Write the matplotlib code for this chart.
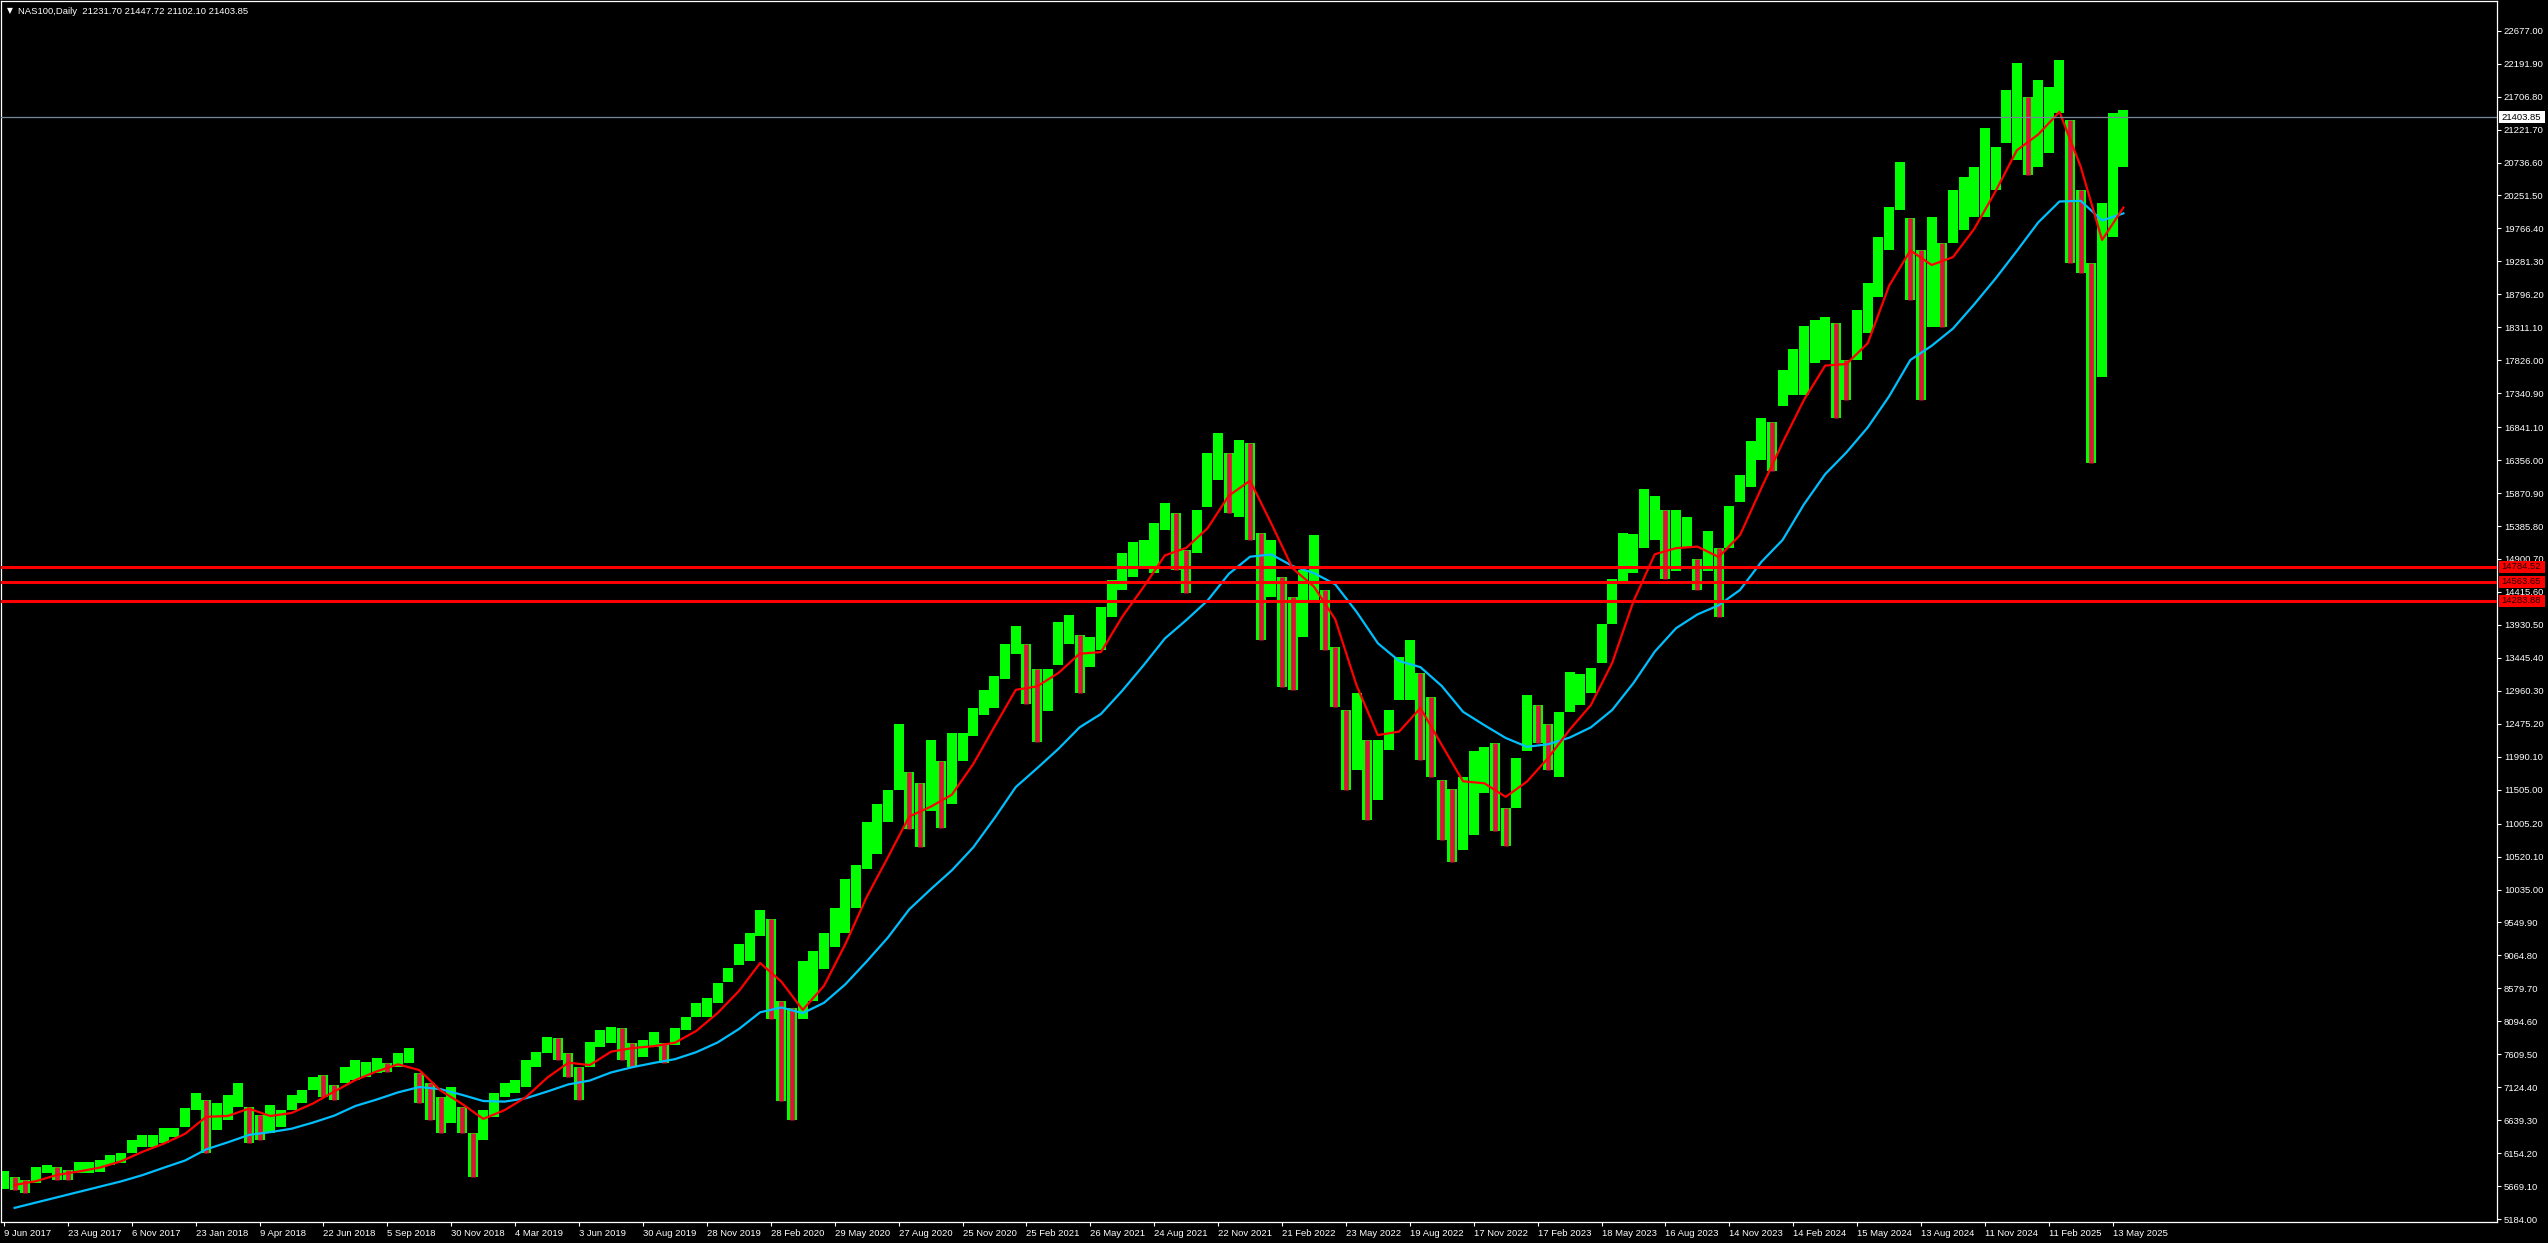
import matplotlib
matplotlib.use("Agg")
import matplotlib.pyplot as plt
import matplotlib.transforms as mtransforms
from matplotlib.patches import Rectangle

plt.rcParams['font.family'] = ['Liberation Sans', 'DejaVu Sans']

# price ranges, one entry per 10 daily bars
bars_per_sample = 10
highs = [5896, 5808, 5759, 5955, 5980, 5955, 5907, 6029, 6029, 6054,
         6127, 6152, 6348, 6422, 6422, 6520, 6520, 6815, 7036, 6937,
         6888, 7011, 7183, 6838, 6716, 6863, 6790, 7011, 7084, 7280,
         7305, 7158, 7427, 7526, 7501, 7551, 7477, 7624, 7698, 7330,
         7183, 6986, 7133, 6838, 6447, 6790, 7036, 7183, 7231, 7526,
         7648, 7869, 7845, 7624, 7427, 7795, 7967, 8016, 7992, 7772,
         7820, 7942, 7772, 7992, 8163, 8360, 8434, 8655, 8880, 9239,
         9397, 9740, 9607, 8399, 8293, 8977, 9135, 9397, 9765, 10186,
         10396, 11028, 11290, 11500, 12473, 11765, 11605, 12236, 11921, 12341,
         12341, 12709, 12972, 13183, 13655, 13919, 13655, 13287, 13287, 13972,
         14076, 13782, 13757, 14198, 14591, 14984, 15155, 15180, 15426, 15720,
         15573, 15033, 15622, 16456, 16760, 16456, 16652, 16604, 15279, 15180,
         14640, 14346, 14739, 15254, 14444, 13610, 12678, 12924, 12236, 12236,
         12678, 13462, 13708, 13218, 12874, 11647, 11515, 11684, 12079, 12135,
         12191, 11234, 11965, 12896, 12754, 12473, 12641, 13233, 13205, 13290,
         13938, 14613, 15289, 15261, 15937, 15825, 15628, 15628, 15514, 14895,
         15317, 15064, 15684, 16134, 16642, 16979, 16923, 17684, 17993, 18330,
         18419, 18467, 18370, 17830, 18566, 18959, 19645, 20086, 20749, 19916,
         19449, 19939, 19548, 20332, 20528, 20675, 21240, 20970, 21804, 22197,
         21706, 21951, 21853, 22246, 21363, 20332, 19253, 20136, 21461, 21510]
lows = [5622, 5612, 5564, 5711, 5858, 5759, 5759, 5858, 5858, 5882,
        5980, 6005, 6152, 6250, 6250, 6300, 6397, 6544, 6790, 6152,
        6495, 6643, 6838, 6300, 6348, 6447, 6544, 6790, 6888, 7084,
        6986, 6937, 7183, 7231, 7280, 7330, 7354, 7427, 7477, 6888,
        6643, 6447, 6594, 6447, 5808, 6348, 6691, 6986, 7036, 7133,
        7427, 7624, 7526, 7280, 6937, 7427, 7722, 7772, 7526, 7427,
        7574, 7722, 7477, 7747, 7967, 8163, 8163, 8360, 8674, 8924,
        8977, 9345, 8135, 6927, 6637, 8135, 8399, 8871, 9188, 9397,
        9765, 10343, 10554, 11028, 11500, 10922, 10660, 11185, 10948, 11290,
        11921, 12289, 12604, 12709, 13130, 13498, 12762, 12210, 12657, 13340,
        13655, 12928, 13315, 13561, 14051, 14444, 14640, 14787, 14690, 15327,
        14739, 14396, 14984, 15670, 16063, 15573, 15523, 15180, 13708, 14346,
        13021, 12972, 13757, 14248, 13561, 12726, 11500, 11795, 11059, 11353,
        12089, 12825, 12825, 11942, 11696, 10764, 10445, 10614, 10839, 11459,
        10895, 10670, 11234, 12079, 12191, 11796, 11684, 12641, 12754, 12924,
        13374, 13938, 14557, 14697, 15064, 15177, 14613, 14725, 15064, 14444,
        14725, 14050, 15064, 15740, 15965, 16359, 16190, 17148, 17317, 17315,
        17781, 17830, 16972, 17241, 17830, 18223, 18762, 19449, 20038, 18713,
        17241, 18320, 18320, 19548, 19743, 19939, 19939, 20332, 21020, 20774,
        20553, 20675, 20872, 21461, 19253, 19106, 16309, 17584, 19645, 20675]

# moving averages, one value per 20 bars (starting at bar 10)
ma_step = 20
ma_red = [5686, 5742, 5834, 5884, 5942, 6035, 6174, 6294, 6439, 6690,
          6701, 6810, 6701, 6746, 6884, 7061, 7231, 7358, 7462, 7377,
          7075, 6881, 6659, 6787, 6978, 7264, 7486, 7451, 7648, 7701,
          7729, 7780, 7953, 8216, 8540, 8954, 8677, 8263, 8619, 9230,
          9924, 10511, 11110, 11253, 11431, 11880, 12432, 12974, 13025, 13222,
          13506, 13530, 14051, 14488, 14953, 15064, 15351, 15832, 16053, 15420,
          14762, 14493, 14011, 13040, 12308, 12360, 12707, 12163, 11628, 11599,
          11399, 11624, 11974, 12386, 12750, 13370, 14279, 14970, 15060, 15083,
          14930, 15251, 15941, 16612, 17241, 17747, 17771, 18077, 18922, 19442,
          19228, 19344, 19760, 20314, 20917, 21149, 21483, 20671, 19596, 20073]
ma_blue = [5349, 5427, 5505, 5583, 5661, 5739, 5831, 5940, 6046, 6211,
           6313, 6423, 6464, 6514, 6604, 6706, 6849, 6944, 7049, 7128,
           7096, 7013, 6922, 6913, 6962, 7061, 7167, 7223, 7342, 7420,
           7482, 7538, 7641, 7783, 7981, 8228, 8299, 8215, 8368, 8640,
           8976, 9329, 9743, 10037, 10318, 10654, 11085, 11543, 11820, 12105,
           12423, 12619, 12962, 13336, 13730, 14000, 14287, 14680, 14934, 14967,
           14796, 14693, 14527, 14122, 13660, 13399, 13308, 13031, 12651, 12454,
           12266, 12136, 12174, 12271, 12422, 12678, 13075, 13537, 13882, 14084,
           14219, 14444, 14856, 15180, 15703, 16149, 16470, 16838, 17294, 17830,
           18039, 18292, 18650, 19029, 19436, 19854, 20163, 20172, 19883, 19988]

levels = [14784.52, 14563.65, 14283.88]
last_price = 21403.85
title = "NAS100,Daily  21231.70 21447.72 21102.10 21403.85"

bars_per_label = 60
x_labels = ['9 Jun 2017', '23 Aug 2017', '6 Nov 2017', '23 Jan 2018', '9 Apr 2018',
            '22 Jun 2018', '5 Sep 2018', '30 Nov 2018', '4 Mar 2019', '3 Jun 2019',
            '30 Aug 2019', '28 Nov 2019', '28 Feb 2020', '29 May 2020', '27 Aug 2020',
            '25 Nov 2020', '25 Feb 2021', '26 May 2021', '24 Aug 2021', '22 Nov 2021',
            '21 Feb 2022', '23 May 2022', '19 Aug 2022', '17 Nov 2022', '17 Feb 2023',
            '18 May 2023', '16 Aug 2023', '14 Nov 2023', '14 Feb 2024', '15 May 2024',
            '13 Aug 2024', '11 Nov 2024', '11 Feb 2025', '13 May 2025']
y_ticks = [22677.00, 22191.90, 21706.80, 21221.70, 20736.60, 20251.50, 19766.40,
           19281.30, 18796.20, 18311.10, 17826.00, 17340.90, 16841.10, 16356.00,
           15870.90, 15385.80, 14900.70, 14415.60, 13930.50, 13445.40, 12960.30,
           12475.20, 11990.10, 11505.00, 11005.20, 10520.10, 10035.00, 9549.90,
           9064.80, 8579.70, 8094.60, 7609.50, 7124.40, 6639.30, 6154.20, 5669.10,
           5184.00]

W, H = 2548, 1243
FS = 6.8
fig = plt.figure(figsize=(W / 100, H / 100), dpi=100, facecolor='black')
ax = fig.add_axes([1 / W, 21 / H, 2496 / W, 1221 / H])
ax.set_facecolor('black')
ax.set_xlim(-2.8, 2340.8)
ax.set_ylim(5141, 23114)

# bars: green band for every block, thinner red core where the block falls
xs = [i * bars_per_sample for i in range(len(highs))]
mids = [(h + l) / 2 for h, l in zip(highs, lows)]
ax.vlines(xs, lows, highs, colors='#00ff00', linewidth=7.2, zorder=2)
down = [i for i in range(1, len(mids)) if mids[i] < mids[i - 1]]
ax.vlines([xs[i] for i in down], [lows[i] for i in down], [highs[i] for i in down],
          colors='#dc143c', linewidth=3.4, zorder=2.5)

# moving averages
ma_x = [10 + j * ma_step for j in range(len(ma_red))]
ax.plot(ma_x, ma_blue, color='#00bfff', linewidth=1.6, zorder=3)
ax.plot(ma_x, ma_red, color='#ff0000', linewidth=1.6, zorder=3)

# horizontal levels
ax.axhline(last_price, color='#778899', linewidth=0.9, zorder=4)
for lv in levels:
    ax.axhline(lv, color='#ff0000', linewidth=2.2, zorder=5)

# axes styling
for sp in ax.spines.values():
    sp.set_color('white')
    sp.set_linewidth(0.9)
ax.yaxis.tick_right()
ax.set_yticks(y_ticks)
ax.set_yticklabels(['%.2f' % v for v in y_ticks])
ax.tick_params(axis='y', colors='white', length=3, width=0.8, pad=2, labelsize=FS)
ax.set_xticks([i * bars_per_label for i in range(len(x_labels))])
ax.set_xticklabels(x_labels, ha='left')
ax.tick_params(axis='x', colors='white', length=3, width=0.8, pad=2, labelsize=FS)

# price boxes on the right scale
trans = mtransforms.blended_transform_factory(ax.transAxes, ax.transData)
px_per_unit = 1221 / (23114 - 5141)
box_h = 12 / px_per_unit
box_w = 46 / 2496


def price_box(value, face, text_color):
    ax.add_patch(Rectangle((1.0008, value - box_h / 2), box_w, box_h, transform=trans,
                           facecolor=face, edgecolor='none', clip_on=False, zorder=6))
    ax.text(1.0018, value, '%.2f' % value, transform=trans, color=text_color,
            fontsize=FS, va='center', ha='left', zorder=7, clip_on=False)


price_box(last_price, 'white', 'black')
for lv in levels:
    price_box(lv, '#ff0000', '#200000')

# header
fig.text(7 / W, 1 - 11 / H, '\u25bc', color='white', fontsize=5.5, va='center',
         family=['DejaVu Sans'])
fig.text(18 / W, 1 - 11 / H, title, color='white', fontsize=FS, va='center')

fig.savefig('out.png', dpi=100, facecolor='black')
